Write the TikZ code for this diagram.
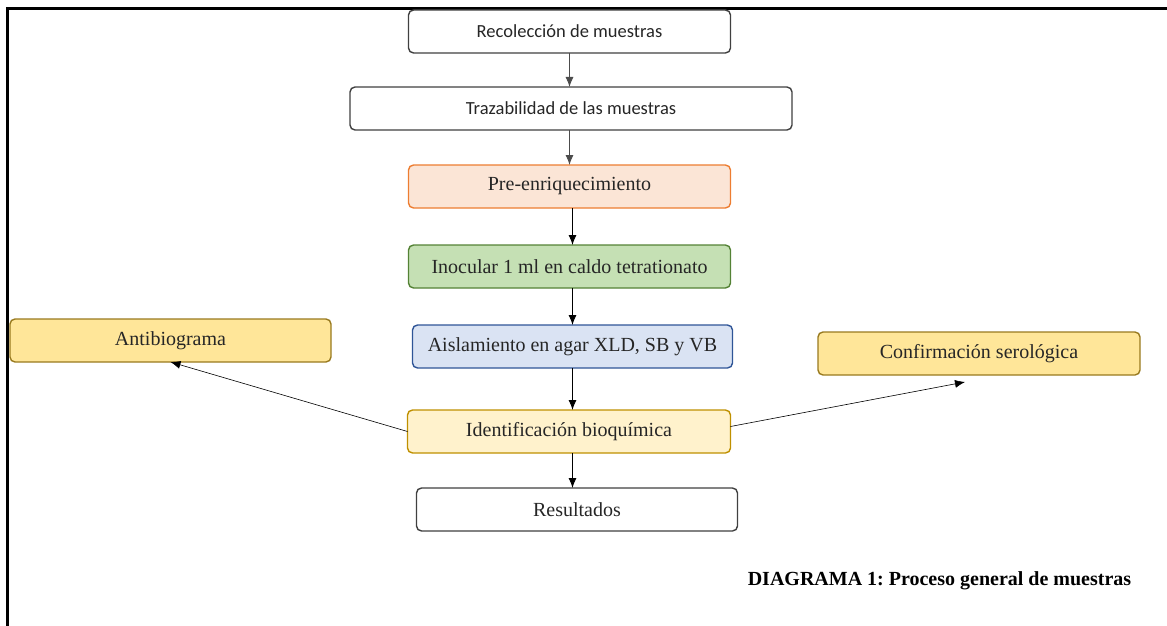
\documentclass[tikz,border=0pt]{standalone}
\usepackage{fontspec}
\setmainfont{Liberation Serif}
\newfontfamily\calibri{Carlito}
\usetikzlibrary{positioning,arrows.meta}

\definecolor{naranja}{HTML}{ED7D31}
\definecolor{naranjaclaro}{HTML}{FBE5D6}
\definecolor{verde}{HTML}{548235}
\definecolor{verdeclaro}{HTML}{C5E0B4}
\definecolor{azul}{HTML}{2F5597}
\definecolor{azulclaro}{HTML}{DAE3F3}
\definecolor{oro}{HTML}{BF9000}
\definecolor{oroclaro}{HTML}{FFF2CC}
\definecolor{ocre}{HTML}{997A1F}
\definecolor{amarillo}{HTML}{FFE699}

\frenchspacing
\begin{document}
\begin{tikzpicture}[x=1pt,y=-1pt]
		\tikzstyle{paso}=[rectangle, rounded corners=5pt, line width=1.4pt, minimum width=322pt, minimum height=43pt, inner sep=0pt, outer sep=0pt, text=black!85, font=\fontsize{20}{24}\selectfont]
		\tikzstyle{blanco}=[paso, draw=black!75, fill=white, font=\calibri\fontsize{18.5}{22}\selectfont]
		\tikzstyle{connect}=[-{Latex[length=10pt,width=8pt]}, line width=0.9pt]
		\useasboundingbox (0,0) rectangle (1167,626);
		\draw[line width=3.5pt] (7.5,626) -- (7.5,8.5) -- (1167,8.5);
		\node[blanco] (recol) at (569.5,31.5) {Recolección de muestras};
		\node[blanco, minimum width=442pt] (traza) [below=34pt of recol, xshift=1.5pt] {Trazabilidad de las muestras};
		\node[paso, draw=naranja, fill=naranjaclaro] (preenr) [below=35pt of traza, xshift=-1.5pt] {Pre-enriquecimiento};
		\node[paso, draw=verde, fill=verdeclaro] (inoc) [below=37pt of preenr] {Inocular 1 ml en caldo tetrationato};
		\node[paso, draw=azul, fill=azulclaro, minimum width=320pt] (aisl) [below=37pt of inoc, xshift=3pt] {Aislamiento en agar XLD, SB y VB};
		\node[paso, draw=oro, fill=oroclaro, minimum width=323pt] (ident) [below=42pt of aisl, xshift=-3.5pt] {Identificación bioquímica};
		\node[blanco, font=\fontsize{20}{24}\selectfont, minimum width=321pt] (result) [below=35pt of ident, xshift=8pt] {Resultados};
		\node[paso, draw=ocre, fill=amarillo, minimum width=321pt] (antib) at (170.5,340.5) {Antibiograma};
		\node[paso, draw=ocre, fill=amarillo] (conf) at (979,353.5) {Confirmación serológica};
		\coordinate (confin) at (965,382);
		\node[font=\bfseries\fontsize{20}{24}\selectfont] (titulo) at (939.5,581) {DIAGRAMA 1: Proceso general de muestras};
		\path (recol) edge [connect, black!70] (recol |- traza.north)
		(recol |- traza.south) edge [connect, black!70] (recol |- preenr.north)
		([xshift=3pt]preenr.south) edge [connect] ([xshift=3pt]preenr.south |- inoc.north)
		([xshift=3pt]inoc.south) edge [connect] ([xshift=3pt]inoc.south |- aisl.north)
		(aisl) edge [connect] (aisl |- ident.north)
		([xshift=3.5pt]ident.south) edge [connect] ([xshift=3.5pt]ident.south |- result.north)
		(ident.west) edge [connect, line width=0.6pt] (antib.south)
		([yshift=5pt]ident.east) edge [connect, line width=0.6pt] (confin);
\end{tikzpicture}
\end{document}
